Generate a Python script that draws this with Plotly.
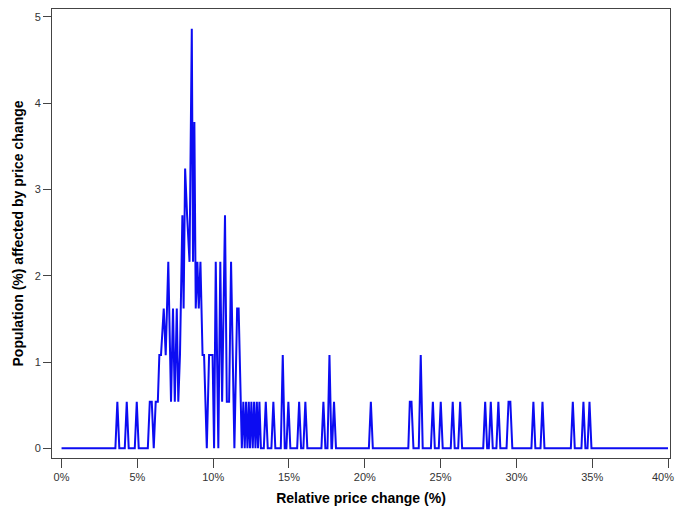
import plotly.graph_objects as go

# Relative price change (%) at each vertex of the frequency polygon
price_change = [
    0.00, 3.55, 3.68, 3.81, 4.17, 4.30, 4.43, 4.83, 4.96, 5.09,
    5.69, 5.82, 5.95, 6.08, 6.21, 6.35, 6.45, 6.56, 6.74, 6.87,
    7.04, 7.22, 7.35, 7.47, 7.60, 7.70, 7.81, 7.97, 8.05, 8.15,
    8.28, 8.44, 8.59, 8.67, 8.76, 8.85, 8.96, 9.05, 9.16, 9.25,
    9.30, 9.40, 9.58, 9.73, 9.96, 10.06, 10.17, 10.34, 10.47, 10.59,
    10.78, 10.90, 11.05, 11.18, 11.40, 11.58, 11.68, 11.89,
    11.99, 12.08, 12.17, 12.26, 12.35, 12.43, 12.52, 12.61, 12.70, 12.79,
    12.88, 12.96, 13.05, 13.15,
    13.34, 13.47, 13.60, 13.84, 13.97, 14.10, 14.46, 14.59, 14.72,
    14.83, 14.96, 15.09, 15.54, 15.67, 15.80, 15.95, 16.08, 16.21,
    17.14, 17.27, 17.40, 17.54, 17.67, 17.80, 17.84, 17.97, 18.10,
    20.27, 20.40, 20.53,
    22.87, 22.97, 23.08, 23.21, 23.56, 23.69, 23.82, 24.36, 24.49, 24.62,
    24.88, 25.01, 25.14, 25.67, 25.80, 25.93, 26.16, 26.29, 26.42,
    27.81, 27.94, 28.07, 28.18, 28.31, 28.44, 28.68, 28.81, 28.94,
    29.35, 29.48, 29.60, 29.73,
    30.99, 31.12, 31.25, 31.59, 31.72, 31.85,
    33.59, 33.72, 33.85, 34.29, 34.42, 34.55, 34.69, 34.82, 34.95,
    40.00,
]

# Share of population (%) affected at each vertex
population = [
    0, 0, 0.54, 0, 0, 0.54, 0, 0, 0.54, 0,
    0, 0.54, 0.54, 0, 0.54, 0.54, 1.08, 1.08, 1.62, 1.08,
    2.16, 0.54, 1.62, 0.54, 1.62, 0.54, 1.08, 2.70, 1.62, 3.24,
    2.70, 2.16, 4.86, 2.16, 3.78, 1.62, 2.16, 1.62, 2.16, 1.62,
    1.08, 1.08, 0, 1.08, 1.08, 0, 2.16, 0, 2.16, 0.54,
    2.70, 0.54, 0.54, 2.16, 0, 1.62, 1.62, 0,
    0.54, 0, 0.54, 0, 0.54, 0, 0.54, 0, 0.54, 0,
    0.54, 0, 0.54, 0,
    0, 0.54, 0, 0, 0.54, 0, 0, 1.08, 0,
    0, 0.54, 0, 0, 0.54, 0, 0, 0.54, 0,
    0, 0.54, 0, 0, 1.08, 0, 0, 0.54, 0,
    0, 0.54, 0,
    0, 0.54, 0.54, 0, 0, 1.08, 0, 0, 0.54, 0,
    0, 0.54, 0, 0, 0.54, 0, 0, 0.54, 0,
    0, 0.54, 0, 0, 0.54, 0, 0, 0.54, 0,
    0, 0.54, 0.54, 0,
    0, 0.54, 0, 0, 0.54, 0,
    0, 0.54, 0, 0, 0.54, 0, 0, 0.54, 0,
    0,
]

x_ticks = [0, 5, 10, 15, 20, 25, 30, 35, 40]
y_ticks = [0, 1, 2, 3, 4, 5]
x_tick_labels = [f"{v}%" for v in x_ticks]

fig = go.Figure(
    go.Scatter(
        x=price_change,
        y=population,
        mode="lines",
        line=dict(color="#0c0cf2", width=2),
        hoverinfo="skip",
    )
)

axis_font = dict(family="Liberation Sans, Arial, sans-serif", size=11, color="#333333")
title_font = dict(family="Liberation Sans, Arial, sans-serif", size=14, color="#000000")

# the last tick label sits at the right edge of the page, so it is drawn
# right-aligned against the edge to keep it whole
fig.add_annotation(
    text=x_tick_labels[-1],
    xref="paper", yref="paper",
    x=1, y=0,
    xanchor="right", yanchor="top",
    xshift=6, yshift=-11,
    showarrow=False,
    font=axis_font,
)

fig.update_layout(
    width=676,
    height=511,
    margin=dict(l=52, r=6, t=9, b=53),
    paper_bgcolor="white",
    plot_bgcolor="white",
    showlegend=False,
    xaxis=dict(
        range=[-0.63, 40.13],
        automargin=False,
        tickmode="array",
        tickvals=x_ticks,
        ticktext=x_tick_labels[:-1] + [""],
        ticks="outside",
        ticklen=9,
        tickcolor="#444444",
        tickfont=axis_font,
        showgrid=False,
        zeroline=False,
        showline=True,
        linecolor="#444444",
        linewidth=1,
        mirror=True,
        title=dict(text="<b>Relative price change (%)</b>", font=title_font, standoff=10),
    ),
    yaxis=dict(
        range=[-0.112, 5.089],
        automargin=False,
        tickmode="array",
        tickvals=y_ticks,
        ticktext=[str(v) for v in y_ticks],
        ticks="outside",
        ticklen=8,
        tickcolor="#444444",
        tickfont=axis_font,
        showgrid=False,
        zeroline=False,
        showline=True,
        linecolor="#444444",
        linewidth=1,
        mirror=True,
        title=dict(text="<b>Population (%) affected by price change</b>", font=title_font, standoff=7),
    ),
)

fig.write_html("out.html")
